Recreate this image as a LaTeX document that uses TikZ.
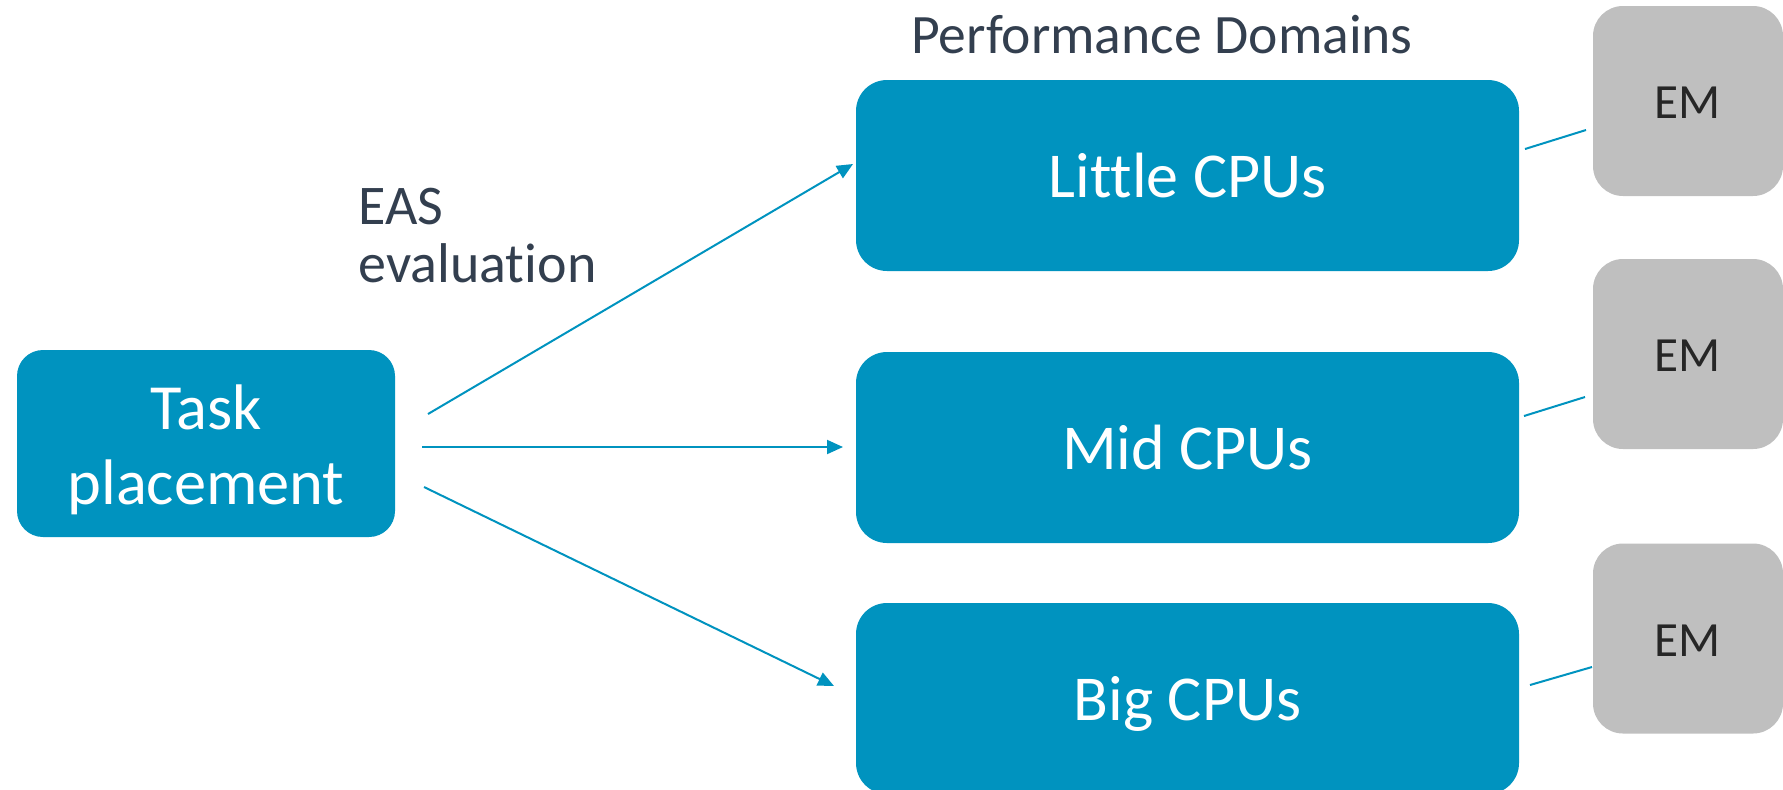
\documentclass[tikz,border=0pt]{standalone}
\usepackage{fontspec}
\setmainfont[RawFeature={-liga}]{Carlito}
\usetikzlibrary{arrows.meta}
\definecolor{cpublue}{HTML}{0093BF}
\definecolor{emgray}{HTML}{BFBFBF}
\definecolor{emtext}{HTML}{262626}
\definecolor{headtext}{HTML}{333F4F}
\begin{document}
\begin{tikzpicture}[x=0.5pt,y=-0.5pt,
  cpubox/.style={fill=cpublue, rounded corners=15.5pt, minimum width=331.5pt,
    minimum height=95.5pt, inner sep=0pt, text=white,
    font=\fontsize{32pt}{38pt}\selectfont, text height=21.5pt, text depth=0pt},
  taskbox/.style={fill=cpublue, rounded corners=13pt, minimum width=189pt,
    minimum height=93.5pt, inner sep=0pt, text=white, align=center,
    font=\fontsize{32.2pt}{37.5pt}\selectfont},
  embox/.style={fill=emgray, rounded corners=15pt, minimum width=95pt,
    minimum height=95pt, inner sep=0pt, text=emtext,
    font=\fontsize{24.6pt}{29pt}\selectfont, text height=17.8pt, text depth=0pt},
  headlabel/.style={text=headtext, inner sep=0pt},
  arr/.style={draw=cpublue, line width=1pt, -{Triangle[length=8pt,width=7pt]}},
  link/.style={draw=cpublue, line width=1pt}
]
\useasboundingbox (0,0) rectangle (1783,789);

% boxes
\node[taskbox] (task) at (206,443.5) {\rule{0pt}{29pt}Task\\placement};
\node[cpubox] (little) at (1187.5,175.5) {Little CPUs};
\node[cpubox] (mid) at (1187.5,447.5) {Mid CPUs};
\node[cpubox] (big) at (1187.5,698.5) {Big CPUs};
\node[embox] (em1) at (1688,101) {EM};
\node[embox] (em2) at (1688,354) {EM};
\node[embox] (em3) at (1688,638.5) {EM};

% labels
\node[headlabel, anchor=base, font=\fontsize{27.8pt}{32pt}\selectfont] (pd) at (1162,53) {Performance Domains};
\node[headlabel, anchor=north west, align=left, font=\fontsize{28pt}{29pt}\selectfont] (eas) at (358,188) {EAS\\evaluation};

% arrow endpoints
\coordinate (a1s) at (428,414);
\coordinate (a1e) at (853,164);
\coordinate (a2s) at (422,447);
\coordinate (a2e) at (843,447);
\coordinate (a3s) at (424,487);
\coordinate (a3e) at (834,686);

\draw[arr] (a1s) -- (a1e);
\draw[arr] (a2s) -- (a2e);
\draw[arr] (a3s) -- (a3e);

% EM links
\coordinate (l1s) at (1525,149);
\coordinate (l1e) at (1586,130);
\coordinate (l2s) at (1524,416);
\coordinate (l2e) at (1585,397);
\coordinate (l3s) at (1530,685);
\coordinate (l3e) at (1592,667);

\draw[link] (l1s) -- (l1e);
\draw[link] (l2s) -- (l2e);
\draw[link] (l3s) -- (l3e);
\end{tikzpicture}
\end{document}
